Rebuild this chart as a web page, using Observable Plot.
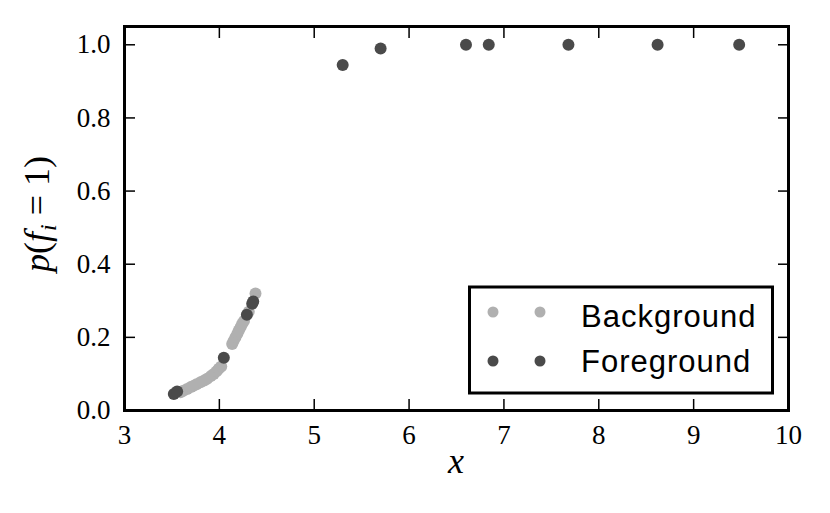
<!DOCTYPE html>
<html>
<head>
<meta charset="utf-8">
<script src="https://cdn.jsdelivr.net/npm/d3@7"></script>
<script src="https://cdn.jsdelivr.net/npm/@observablehq/plot@0.6"></script>
<style>
  html, body { margin: 0; padding: 0; background: #fff; }
</style>
</head>
<body>
<div id="chart"></div>
<script>
// Background points
const bgX = [3.59, 3.62, 3.661, 3.70, 3.731, 3.76, 3.801, 3.84, 3.872, 3.91, 3.941, 3.97, 3.994, 4.02, 4.135, 4.15, 4.17, 4.19, 4.205, 4.225, 4.241, 4.26, 4.31, 4.381];
const bgY = [0.050, 0.054, 0.059, 0.064, 0.068, 0.072, 0.077, 0.082, 0.087, 0.094, 0.100, 0.107, 0.114, 0.120, 0.182, 0.190, 0.200, 0.210, 0.219, 0.228, 0.237, 0.245, 0.270, 0.320];
// Foreground points
const fgX = [3.52, 3.555, 4.047, 4.29, 4.346, 4.357, 5.30, 5.70, 6.60, 6.84, 7.68, 8.62, 9.48];
const fgY = [0.045, 0.052, 0.144, 0.262, 0.292, 0.298, 0.945, 0.990, 1.0, 1.0, 1.0, 1.0, 1.0];
const xTicks = [3, 4, 5, 6, 7, 8, 9, 10];
const yTicks = [0.0, 0.2, 0.4, 0.6, 0.8, 1.0];
const seriesNames = ["Background", "Foreground"];
const seriesColors = ["#b0b0b0", "#4a4a4a"];

const bg = bgX.map((x, i) => ({x, y: bgY[i]}));
const fg = fgX.map((x, i) => ({x, y: fgY[i]}));

const serif = "'Liberation Serif', 'DejaVu Serif', serif";
const tick = 11;

const chart = Plot.plot({
  width: 830,
  height: 513,
  marginLeft: 124,
  marginRight: 42,
  marginTop: 26,
  marginBottom: 103,
  style: {background: "#fff", color: "#000"},
  x: {domain: [3, 10]},
  y: {domain: [0, 1.05]},
  marks: [
    Plot.dot(bg, {x: "x", y: "y", r: 6, fill: seriesColors[0], stroke: "none"}),
    Plot.dot(fg, {x: "x", y: "y", r: 6, fill: seriesColors[1], stroke: "none"}),
    Plot.axisX({anchor: "bottom", ticks: xTicks, tickSize: -tick, tickPadding: tick + 10, tickFormat: d3.format("d"), label: null, fontSize: 27, fontFamily: serif, strokeWidth: 1.5}),
    Plot.axisX({anchor: "top", ticks: xTicks, tickSize: -tick, tickFormat: () => "", label: null, strokeWidth: 1.5}),
    Plot.axisY({anchor: "left", ticks: yTicks, tickSize: -tick, tickPadding: tick + 14, tickFormat: d3.format(".1f"), label: null, fontSize: 27, fontFamily: serif, strokeWidth: 1.5}),
    Plot.axisY({anchor: "right", ticks: yTicks, tickSize: -tick, tickFormat: () => "", label: null, strokeWidth: 1.5}),
    Plot.frame({stroke: "#000", strokeWidth: 3})
  ]
});

document.getElementById("chart").appendChild(chart);

const svg = d3.select(chart);
// nudge bottom tick labels down a little (inward ticks leave them too close)
svg.selectAll('g[aria-label="x-axis tick label"]').each(function () {
  const g = d3.select(this);
  const t = g.attr("transform") || "";
  g.attr("transform", "translate(0,4) " + t);
});

// Axis labels and legend
svg.append("text")
  .attr("x", 456).attr("y", 473)
  .attr("text-anchor", "middle")
  .attr("font-family", serif).attr("font-style", "italic").attr("font-size", 36)
  .text("x");

const yl = svg.append("text")
  .attr("transform", "translate(49,214) rotate(-90)")
  .attr("text-anchor", "middle")
  .attr("font-family", serif).attr("font-size", 36);
yl.append("tspan").attr("font-style", "italic").text("p");
yl.append("tspan").text("(");
yl.append("tspan").attr("font-style", "italic").text("f");
yl.append("tspan").attr("font-style", "italic").attr("font-size", 24).attr("dy", 7).attr("dx", 1).text("i");
yl.append("tspan").attr("dy", -7).attr("dx", 9).text("=");
yl.append("tspan").attr("dx", 9).text("1)");

const lg = svg.append("g").attr("text-anchor", "start");
lg.append("rect")
  .attr("x", 469.5).attr("y", 287).attr("width", 303).attr("height", 106)
  .attr("fill", "#fff").attr("stroke", "#000").attr("stroke-width", 3);
const markerY = [312, 361];
const textY = [327, 372];
seriesNames.forEach((name, i) => {
  [493, 540].forEach(cx => {
    lg.append("circle").attr("cx", cx).attr("cy", markerY[i]).attr("r", 5.5).attr("fill", seriesColors[i]);
  });
  lg.append("text")
    .attr("x", 581).attr("y", textY[i])
    .attr("text-anchor", "start")
    .attr("font-family", "'Liberation Sans', Arial, sans-serif").attr("font-size", 31)
    .attr("letter-spacing", 1)
    .text(name);
});
</script>
</body>
</html>
